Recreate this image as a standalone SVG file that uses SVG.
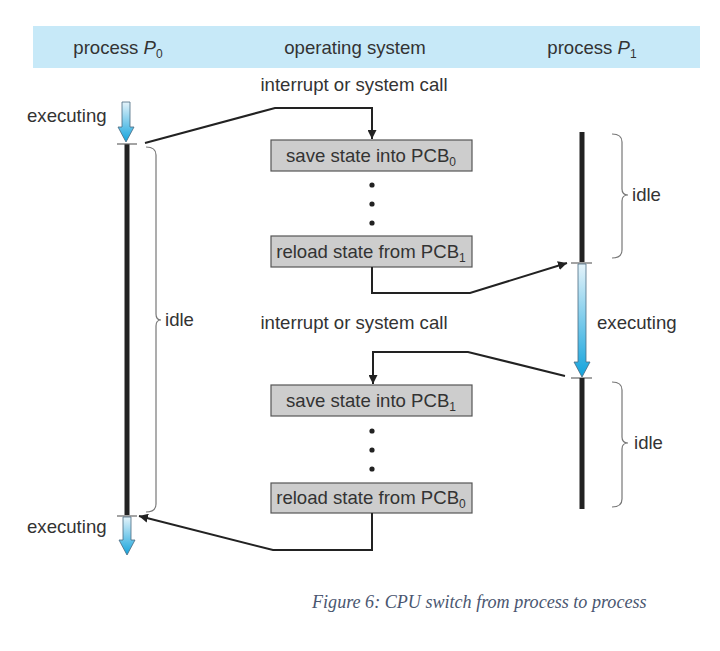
<svg xmlns="http://www.w3.org/2000/svg" width="720" height="651" viewBox="0 0 720 651">
<defs>
<linearGradient id="blue" x1="0" y1="0" x2="0" y2="1">
<stop offset="0" stop-color="#e4f3fa"/>
<stop offset="1" stop-color="#12a3dc"/>
</linearGradient>
<marker id="ah" viewBox="0 0 10 10" refX="10" refY="5" markerWidth="9" markerHeight="9" markerUnits="userSpaceOnUse" orient="auto">
<path d="M0,0 L10,5 L0,10 Z" fill="#222"/>
</marker>
<style>
text{font-family:"Liberation Sans",Arial,sans-serif;font-size:18.6px;fill:#333}
.box{fill:#cdcdcd;stroke:#555;stroke-width:1.2}
.conn{fill:none;stroke:#222;stroke-width:2}
.brace{fill:none;stroke:#777;stroke-width:1.2}
.tl{stroke:#222;stroke-width:5}
.tick{stroke:#666;stroke-width:1.2}
.arr{fill:url(#blue);stroke:#4a6a80;stroke-width:0.8}
.sub{font-size:12px}
.cap{font-family:"Liberation Serif","Times New Roman",serif;font-style:italic;font-size:18.1px;fill:#4a5670}
</style>
</defs>
<rect x="33" y="26" width="667" height="42" fill="#c7e9f8"/>
<g id="headers">
<text x="118" y="54" text-anchor="middle">process <tspan font-style="italic">P</tspan><tspan class="sub" dy="4">0</tspan></text>
<text x="355" y="54" text-anchor="middle">operating system</text>
<text x="592" y="54" text-anchor="middle">process <tspan font-style="italic">P</tspan><tspan class="sub" dy="4">1</tspan></text>
</g>
<g id="labels">
<text x="354" y="91" text-anchor="middle">interrupt or system call</text>
<text x="354" y="329" text-anchor="middle">interrupt or system call</text>
<text x="27" y="122">executing</text>
<text x="27" y="533">executing</text>
<text x="597" y="329">executing</text>
<text x="165" y="326">idle</text>
<text x="632" y="201">idle</text>
<text x="634" y="449">idle</text>
</g>
<g id="timeline-p0">
<path class="arr" d="M122,102 H130 V127 H134 L126,142 L118,127 H122 Z"/>
<line class="tl" x1="127" y1="144" x2="127" y2="515"/>
<line class="tick" x1="117" y1="144" x2="137" y2="144"/>
<line class="tick" x1="117" y1="516" x2="137" y2="516"/>
<path class="arr" d="M123,517 H131 V540 H135 L127,555 L119,540 H123 Z"/>
<path class="brace" d="M146,147 Q156,147 156,155 L156,314 Q156,320 161,320 Q156,320 156,326 L156,504 Q156,512 146,512"/>
</g>
<g id="timeline-p1">
<line class="tl" x1="582" y1="132" x2="582" y2="262"/>
<line class="tick" x1="571" y1="263" x2="592" y2="263"/>
<path class="arr" d="M578,264 H586 V362 H590 L582,377 L574,362 H578 Z"/>
<line class="tick" x1="571" y1="378" x2="592" y2="378"/>
<line class="tl" x1="582" y1="378" x2="582" y2="509"/>
<path class="brace" d="M612,134 Q622,134 622,142 L622,189 Q622,195 628,195 Q622,195 622,201 L622,250 Q622,258 612,258"/>
<path class="brace" d="M612,382 Q622,382 622,390 L622,437 Q622,443 628,443 Q622,443 622,449 L622,499 Q622,507 612,507"/>
</g>
<g id="box-save0">
<rect class="box" x="271" y="140" width="201" height="31"/>
<text x="371" y="162" text-anchor="middle">save state into PCB<tspan class="sub" dy="4">0</tspan></text>
</g>
<g id="dots1" fill="#222">
<circle cx="372" cy="185" r="2.6"/>
<circle cx="372" cy="204" r="2.6"/>
<circle cx="372" cy="223" r="2.6"/>
</g>
<g id="box-reload1">
<rect class="box" x="271" y="236" width="201" height="31"/>
<text x="371" y="258" text-anchor="middle">reload state from PCB<tspan class="sub" dy="4">1</tspan></text>
</g>
<g id="box-save1">
<rect class="box" x="271" y="385" width="201" height="31"/>
<text x="371" y="407" text-anchor="middle">save state into PCB<tspan class="sub" dy="4">1</tspan></text>
</g>
<g id="dots2" fill="#222">
<circle cx="372" cy="431" r="2.6"/>
<circle cx="372" cy="450" r="2.6"/>
<circle cx="372" cy="469" r="2.6"/>
</g>
<g id="box-reload0">
<rect class="box" x="271" y="483" width="201" height="30"/>
<text x="371" y="504" text-anchor="middle">reload state from PCB<tspan class="sub" dy="4">0</tspan></text>
</g>
<g id="connectors">
<path class="conn" d="M145,143 L275,108 H372 V139" marker-end="url(#ah)"/>
<path class="conn" d="M372,267 V293 H470 L567,263" marker-end="url(#ah)"/>
<path class="conn" d="M565,376 L468,352 H373 V384" marker-end="url(#ah)"/>
<path class="conn" d="M372,513 V550 H273 L139,516" marker-end="url(#ah)"/>
</g>
<text class="cap" x="312" y="608">Figure 6: CPU switch from process to process</text>
</svg>
